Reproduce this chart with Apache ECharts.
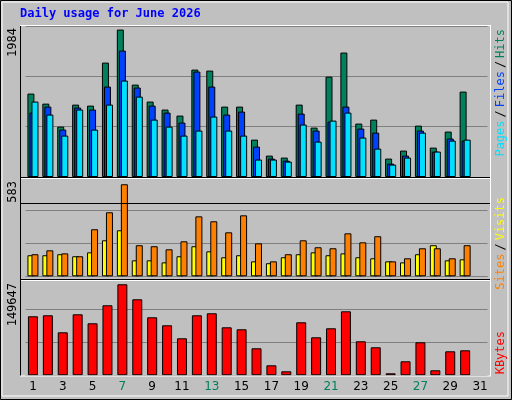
<!DOCTYPE html><html><head><meta charset="utf-8">
<script src="https://cdn.jsdelivr.net/npm/echarts@6/dist/echarts.min.js"></script>
<style>html,body{margin:0;padding:0;background:#c0c0c0}#c{width:512px;height:400px}</style></head>
<body><div id="c"></div><script>
const days = ['1','2','3','4','5','6','7','8','9','10','11','12','13','14','15','16','17','18','19','20','21','22','23','24','25','26','27','28','29','30','31'];
const weekend = ['6','7','13','14','20','21','27','28'];
const hits = [1096,964,662,951,938,1503,1937,1214,991,886,807,1411,1398,925,925,491,281,255,951,649,1319,1635,702,754,242,347,675,386,597,1122];
const files = [846,925,623,912,886,1188,1661,1175,938,846,715,1385,1188,820,859,399,242,215,833,610,728,925,636,583,176,281,610,334,505,478];
const pages = [991,820,544,886,623,951,1267,1056,754,662,544,610,794,610,544,229,229,202,689,465,741,846,518,373,163,255,583,334,478,491];
const visits = [130,153,135,118,277,377,542,183,177,159,206,353,324,259,359,194,88,130,212,171,165,253,200,236,88,106,165,165,106,183];
const sites = [124,124,130,118,141,212,271,94,94,82,118,177,147,112,124,88,77,112,130,141,124,135,112,106,88,82,130,183,94,100];
const kbytes = [89190,90700,65000,92210,78610,105820,137560,114890,87680,75590,55930,90700,93730,72560,69540,40820,15120,6050,80120,57440,71050,96750,51400,42330,3020,21160,49890,7560,36280,37790];
const maxTop = 1984, maxMid = 583, maxBot = 149647;

const L = 25.5, W = 462;
const grids = [
  {left:L, width:W, top:26, height:151},
  {left:L, width:W, top:177.3, height:99},
  {left:L, width:W, top:276.3, height:99}
];
function xa(i, show){return {type:'category', gridIndex:i, data:days, boundaryGap:true,
  axisLine:{show:false}, axisTick:{show:false},
  axisLabel:{show:show, fontFamily:'DejaVu Sans', fontSize:12, margin:6,
    color:(v)=>weekend.includes(v)?'#00805c':'#000000'}};}
function ya(i,m){return {type:'value', gridIndex:i, min:0, max:m, interval:m/3,
  axisLine:{show:false}, axisTick:{show:false}, axisLabel:{show:false},
  splitLine:{lineStyle:{color:'#808080', width:1}}};}
const bs = {borderColor:'#000', borderWidth:1};
function bar(name,data,xi,color,w,gap){return {name,type:'bar',xAxisIndex:xi,yAxisIndex:xi,data,
  barWidth:w, barGap:gap, itemStyle:Object.assign({color},bs), animation:false, silent:true};}

const chart = echarts.init(document.getElementById('c'));
chart.setOption({
  backgroundColor:'#c0c0c0',
  grid:grids,
  xAxis:[xa(0,false),xa(1,false),xa(2,true)],
  yAxis:[ya(0,maxTop),ya(1,maxMid),ya(2,maxBot)],
  series:[
    bar('Hits',hits,0,'#00805c',7,'-71%'),
    bar('Files',files,0,'#0040ff',7,'-71%'),
    bar('Pages',pages,0,'#00e0ff',7,'-71%'),
    bar('Sites',sites,1,'#ffff00',7,'-43%'),
    bar('Visits',visits,1,'#ff8000',7,'-43%'),
    bar('KBytes',kbytes,2,'#ff0000',10,'0%')
  ],
  graphic:[
    {type:'rect',shape:{x:0.5,y:0.5,width:511,height:399},style:{fill:null,stroke:'#000',lineWidth:1},z:-1},
    {type:'rect',shape:{x:2,y:2,width:506,height:394},style:{fill:null,stroke:'#ffffff',lineWidth:1},z:-1},
    {type:'rect',shape:{x:20.5,y:25.5,width:470,height:178},style:{fill:null,stroke:'#000',lineWidth:1},z:10},
    {type:'line',shape:{x1:20,y1:177.5,x2:490,y2:177.5},style:{stroke:'#000',lineWidth:1},z:10},
    {type:'line',shape:{x1:20,y1:178.5,x2:490,y2:178.5},style:{stroke:'#fff',lineWidth:1},z:10},
    {type:'line',shape:{x1:20,y1:279.5,x2:490,y2:279.5},style:{stroke:'#000',lineWidth:1},z:10},
    {type:'line',shape:{x1:20,y1:280.5,x2:490,y2:280.5},style:{stroke:'#fff',lineWidth:1},z:10},
    {type:'line',shape:{x1:20.5,y1:25,x2:20.5,y2:376},style:{stroke:'#000',lineWidth:1},z:10},
    {type:'line',shape:{x1:490.5,y1:25,x2:490.5,y2:376},style:{stroke:'#fff',lineWidth:1},z:10},
    {type:'line',shape:{x1:20,y1:376,x2:491,y2:376},style:{stroke:'#fff',lineWidth:1},z:10},
    {type:'line',shape:{x1:20,y1:25.5,x2:491,y2:25.5},style:{stroke:'#fff',lineWidth:1},z:10},
    {type:'text',x:20,y:8,style:{text:'Daily usage for June 2026',fill:'#0000ff',font:'bold 12px "DejaVu Sans Mono"'}},
    {type:'text',x:13,y:28,rotation:Math.PI/2,style:{text:String(maxTop),fill:'#000',font:'12px "DejaVu Sans Mono"',align:'right',verticalAlign:'middle'}},
    {type:'text',x:13,y:181,rotation:Math.PI/2,style:{text:String(maxMid),fill:'#000',font:'12px "DejaVu Sans Mono"',align:'right',verticalAlign:'middle'}},
    {type:'text',x:13,y:283,rotation:Math.PI/2,style:{text:String(maxBot),fill:'#000',font:'12px "DejaVu Sans Mono"',align:'right',verticalAlign:'middle'}},
    {type:'text',x:501,y:29,rotation:Math.PI/2,style:{text:'{p|Pages}{s|/}{f|Files}{s|/}{h|Hits}',align:'right',verticalAlign:'middle',
      font:'12px "DejaVu Sans Mono"',rich:{p:{fill:'#00e0ff',font:'12px "DejaVu Sans Mono"'},f:{fill:'#0040ff',font:'12px "DejaVu Sans Mono"'},h:{fill:'#00805c',font:'12px "DejaVu Sans Mono"'},s:{fill:'#000',font:'12px "DejaVu Sans Mono"',padding:[0,3]}}}},
    {type:'text',x:501,y:197,rotation:Math.PI/2,style:{text:'{a|Sites}{s|/}{b|Visits}',align:'right',verticalAlign:'middle',
      font:'12px "DejaVu Sans Mono"',rich:{a:{fill:'#ff8000',font:'12px "DejaVu Sans Mono"'},b:{fill:'#ffff00',font:'12px "DejaVu Sans Mono"'},s:{fill:'#000',font:'12px "DejaVu Sans Mono"',padding:[0,3]}}}},
    {type:'text',x:501,y:331,rotation:Math.PI/2,style:{text:'KBytes',fill:'#ff0000',font:'12px "DejaVu Sans Mono"',align:'right',verticalAlign:'middle'}}
  ]
});
</script></body></html>
